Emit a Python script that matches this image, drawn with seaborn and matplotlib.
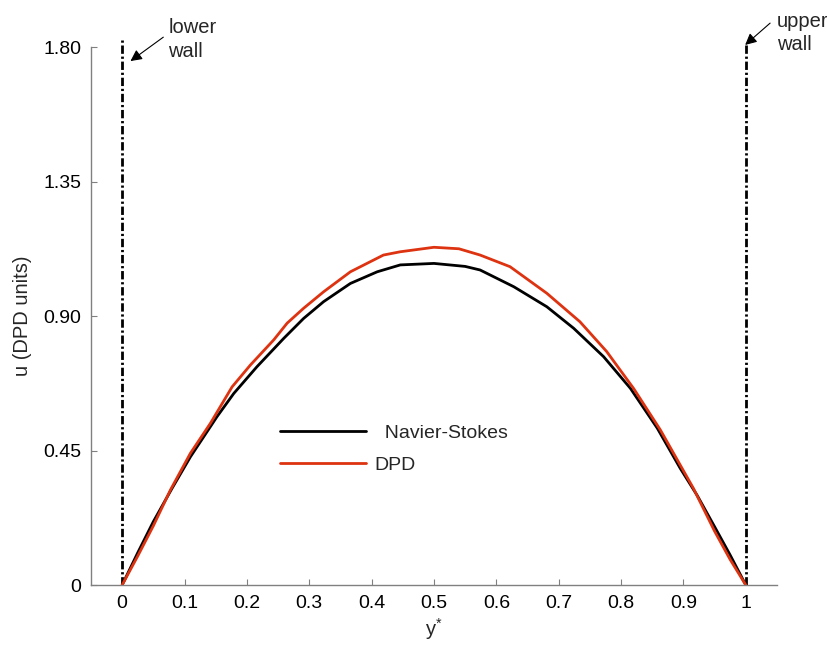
import numpy as np
import pandas as pd
import matplotlib
matplotlib.use("Agg")
import matplotlib.pyplot as plt
import seaborn as sns

# velocity profiles (y*, u)
ns_y = [0.0, 0.025, 0.05, 0.080, 0.1095, 0.152, 0.179, 0.216, 0.259, 0.291, 0.323, 0.366,
        0.409, 0.446, 0.5, 0.55, 0.574, 0.628, 0.681, 0.724, 0.772, 0.815, 0.858, 0.895,
        0.922, 0.95, 0.975, 1.0]
ns_u = [0.0, 0.108, 0.212, 0.3235, 0.429, 0.563, 0.641, 0.730, 0.825, 0.892, 0.948, 1.009,
        1.048, 1.071, 1.076, 1.066, 1.054, 0.998, 0.931, 0.859, 0.764, 0.658, 0.525, 0.390,
        0.300, 0.195, 0.100, 0.0]
dpd_y = [0.0, 0.025, 0.05, 0.0774, 0.1095, 0.1415, 0.1763, 0.2056, 0.243, 0.2645, 0.291,
         0.323, 0.366, 0.419, 0.446, 0.5, 0.54, 0.574, 0.622, 0.681, 0.734, 0.777, 0.820,
         0.863, 0.916, 0.95, 0.975, 1.0]
dpd_u = [0.0, 0.097, 0.198, 0.318, 0.441, 0.541, 0.663, 0.736, 0.820, 0.876, 0.926,
         0.981, 1.048, 1.104, 1.115, 1.13, 1.125, 1.104, 1.065, 0.976, 0.881, 0.781, 0.658,
         0.519, 0.3235, 0.180, 0.085, 0.0]

walls = [0.0, 1.0]
wall_tops = [1.83, 1.806]
xticks = [0, 0.1, 0.2, 0.3, 0.4, 0.5, 0.6, 0.7, 0.8, 0.9, 1.0]
xticklabels = ["0", "0.1", "0.2", "0.3", "0.4", "0.5", "0.6", "0.7", "0.8", "0.9", "1"]
yticks = [0, 0.45, 0.90, 1.35, 1.80]
yticklabels = ["0", "0.45", "0.90", "1.35", "1.80"]

df = pd.DataFrame({
    "y": ns_y + dpd_y,
    "u": ns_u + dpd_u,
    "model": ["Navier-Stokes"] * len(ns_y) + ["DPD"] * len(dpd_y),
})

sns.set_style("ticks")
plt.rcParams["font.family"] = ["Liberation Sans", "DejaVu Sans"]
plt.rcParams["mathtext.default"] = "regular"

fig = plt.figure(figsize=(8.27, 6.46), dpi=100)
ax = fig.add_axes([0.110, 0.0944, 0.8295, 0.8328])

sns.lineplot(data=df, x="y", y="u", hue="model",
             palette={"Navier-Stokes": "black", "DPD": "#dd3311"},
             linewidth=2.0, sort=False, estimator=None, ax=ax, legend=False)

for w, top in zip(walls, wall_tops):
    ax.plot([w, w], [0, top], color="black", lw=2.0,
            linestyle=(0, (3, 1, 0.8, 1)), clip_on=False, zorder=1)

arrow = dict(arrowstyle="-|>", color="black", lw=0.8, mutation_scale=17,
             shrinkA=0, shrinkB=0)
ax.annotate("", xy=(0.0133, 1.753), xytext=(0.066, 1.833),
            arrowprops=arrow, annotation_clip=False)
ax.annotate("", xy=(0.999, 1.807), xytext=(1.039, 1.880),
            arrowprops=arrow, annotation_clip=False)
ax.text(0.0742, 1.847, "lower", fontsize=14.5, va="baseline", ha="left", clip_on=False)
ax.text(0.0742, 1.766, "wall", fontsize=14.5, va="baseline", ha="left", clip_on=False)
ax.text(1.050, 1.867, "upper", fontsize=14.5, va="baseline", ha="left", clip_on=False)
ax.text(1.050, 1.790, "wall", fontsize=14.5, va="baseline", ha="left", clip_on=False)

h1, = ax.plot([], [], color="black", lw=2.0)
h2, = ax.plot([], [], color="#dd3311", lw=2.0)
ax.legend([h1, h2], ["  Navier-Stokes", "DPD"], loc="center left",
          bbox_to_anchor=(0.2755, 0.2525), frameon=False, fontsize=14,
          handlelength=4.4, handletextpad=0.45, labelspacing=0.72,
          borderpad=0, borderaxespad=0)

ax.set_xlim(-0.05, 1.05)
ax.set_ylim(0, 1.8)
ax.set_xticks(xticks)
ax.set_xticklabels(xticklabels)
ax.set_yticks(yticks)
ax.set_yticklabels(yticklabels)
ax.tick_params(direction="in", length=4.5, width=0.8, color="#808080",
               labelsize=14, pad=7, labelcolor="black")
for s in ["top", "right"]:
    ax.spines[s].set_visible(False)
for s in ["left", "bottom"]:
    ax.spines[s].set_color("#808080")
    ax.spines[s].set_linewidth(1.0)

ax.set_xlabel("y$^{*}$", fontsize=14.5, labelpad=3)
ax.set_ylabel("u (DPD units)", fontsize=14.5, labelpad=8)

fig.savefig("out.png", dpi=100)
